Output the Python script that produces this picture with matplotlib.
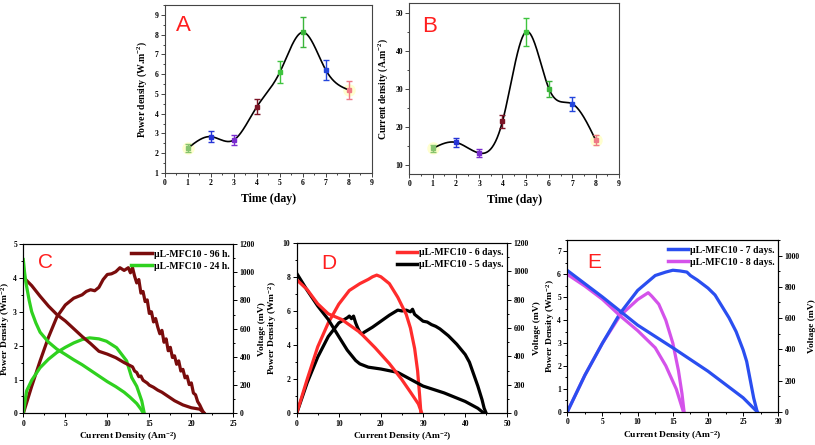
import numpy as np
import matplotlib
matplotlib.use('Agg')
import matplotlib.pyplot as plt
from matplotlib.ticker import MultipleLocator

plt.rcParams['font.family'] = ['Liberation Serif', 'DejaVu Serif']
plt.rcParams['font.weight'] = 'bold'
plt.rcParams['axes.labelweight'] = 'bold'
plt.rcParams['mathtext.fontset'] = 'custom'
plt.rcParams['mathtext.rm'] = 'Liberation Serif:bold'
plt.rcParams['mathtext.bf'] = 'Liberation Serif:bold'
plt.rcParams['mathtext.default'] = 'bf'

# ---------------- data ----------------
days = [1, 2, 3, 4, 5, 6, 7, 8]
power_day = [2.25, 2.84, 2.67, 4.35, 6.1, 8.12, 6.2, 5.2]
power_err = [0.2, 0.28, 0.23, 0.37, 0.55, 0.75, 0.5, 0.45]
current_day = [14.3, 15.9, 13.1, 21.4, 44.9, 29.9, 26.0, 16.5]
current_err = [0.9, 1.2, 0.95, 1.8, 3.6, 2.1, 1.9, 1.4]
point_colors = ['#86c46e', '#2634d6', '#7a2ccf', '#7c1426', '#3fc43f', '#3bb53b', '#2446dc', '#ef7a86']

# Panel C
c96_j = [0, 1, 2, 3, 4, 5, 6, 7, 7.5, 8, 8.5, 9, 9.5, 10, 10.5, 11, 11.5, 12, 12.5,
         12.75, 13.0, 13.25, 13.5, 13.75, 14.0, 14.25, 14.5, 14.75, 15.0, 15.25, 15.5, 15.75, 16.0,
         16.25, 16.5, 16.75, 17.0, 17.25, 17.5, 17.75, 18.0, 18.25, 18.5, 18.75, 19.0, 19.25, 19.5,
         19.75, 20.0, 20.25, 20.5, 20.75, 21.0, 21.25, 21.5]
c96_p = [0, 0.8, 1.55, 2.25, 2.85, 3.2, 3.4, 3.5, 3.6, 3.65, 3.62, 3.72, 3.95, 4.1, 4.12, 4.18, 4.3, 4.22, 4.3,
         4.15, 4.3, 4.05, 3.85, 3.95, 3.55, 3.6, 3.3, 3.35, 2.95, 3.0, 2.7, 2.8, 2.55,
         2.35, 2.45, 2.1, 2.2, 1.85, 1.95, 1.65, 1.7, 1.45, 1.55, 1.25, 1.3, 1.05, 1.1,
         0.85, 0.9, 0.6, 0.55, 0.35, 0.25, 0.12, 0.0]
c96_vj = [0, 0.5, 1, 2, 3, 4, 5, 6, 7, 8, 9, 10, 11, 12, 12.5, 13.0, 13.25, 13.5, 13.75, 14.0, 14.25,
          14.5, 14.75, 15.0, 15.5, 16.0, 16.5, 17.0, 17.5, 18.0, 18.5, 19.0, 19.5, 20.0, 20.5, 21.0, 21.5]
c96_v = [965, 935, 905, 830, 760, 700, 655, 600, 545, 495, 440, 420, 395, 360, 345, 330, 300, 290, 260, 265, 235,
         225, 215, 200, 185, 165, 150, 130, 110, 90, 75, 60, 50, 40, 35, 30, 5]
c24_j = [0, 0.4, 1, 2, 3, 4, 5, 6, 7, 7.9, 9, 9.9, 11.1, 12.3, 12.9, 13.5, 14.1, 14.4]
c24_p = [0, 0.67, 0.98, 1.35, 1.6, 1.8, 1.95, 2.08, 2.18, 2.23, 2.2, 2.13, 1.94, 1.55, 1.06, 0.8, 0.37, 0]
c24_vj = [0, 0.15, 0.3, 0.7, 1.0, 1.5, 2, 3, 4, 5, 6, 7, 8, 9, 10, 11, 12, 12.7, 13.5, 14.0, 14.3]
c24_v = [1090, 1000, 930, 800, 720, 640, 575, 505, 455, 418, 380, 345, 305, 265, 225, 190, 150, 115, 70, 30, 0]

# Panel D
d6_j = [0, 2.5, 5, 7.5, 10, 12.5, 15, 17, 18, 19, 20, 21, 22, 23, 24, 25, 26, 27, 28, 28.7, 29.2, 29.5]
d6_p = [0, 2.0, 3.9, 5.3, 6.4, 7.2, 7.6, 7.85, 8.0, 8.1, 8.0, 7.8, 7.6, 7.2, 6.8, 6.3, 5.8, 5.0, 3.8, 2.5, 1.0, 0]
d6_vj = [0, 2.5, 5, 7.5, 10.7, 15, 18.6, 22, 24.9, 27, 28.9, 29.7]
d6_v = [940, 870, 770, 700, 660, 570, 462, 350, 240, 150, 66, 0]
d5_j = [0, 2.5, 5, 7.5, 10, 11, 12, 12.5, 13, 13.5, 14, 14.5, 15, 15.5, 16, 17, 18, 20, 22, 24, 25, 26, 27, 27.5,
        28, 29, 30, 31, 32, 33, 34, 35, 36, 37, 38, 39, 40, 41, 42, 43, 44, 44.5, 45]
d5_p = [0, 1.8, 3.3, 4.5, 5.3, 5.45, 5.6, 5.7, 5.55, 5.7, 5.3, 5.0, 4.75, 4.65, 4.75, 4.9, 5.05, 5.4, 5.75, 6.05, 6.0, 6.05, 5.95, 6.1,
        5.8, 5.6, 5.4, 5.35, 5.2, 5.1, 4.95, 4.75, 4.55, 4.3, 4.05, 3.75, 3.45, 3.0, 2.3, 1.6, 0.8, 0.3, 0]
d5_vj = [0, 2.5, 5, 7.5, 10, 12, 14, 15, 17, 20, 24, 27, 30, 35, 40, 43, 44.5]
d5_v = [985, 865, 755, 660, 540, 445, 372, 348, 325, 312, 288, 240, 192, 144, 84, 36, 0]

# Panel E
e7_j = [0, 2.5, 5, 7.5, 10, 12.5, 14, 15, 16, 17, 17.5, 18.5, 20, 21, 22, 23, 24, 25, 25.5, 26, 26.5, 27]
e7_p = [0, 1.6, 3.0, 4.3, 5.3, 5.95, 6.1, 6.18, 6.15, 6.1, 5.95, 5.75, 5.4, 5.1, 4.6, 4.1, 3.5, 2.7, 2.2, 1.4, 0.6, 0]
e7_vj = [0, 5, 10, 15, 20, 25, 27]
e7_v = [905, 735, 555, 410, 260, 90, 0]
e8_j = [0, 2.5, 5, 7.5, 10, 11, 11.5, 12, 13, 14, 15, 15.8, 16.3, 16.6]
e8_p = [0, 1.6, 3.0, 4.2, 4.9, 5.1, 5.2, 5.05, 4.7, 4.0, 3.0, 1.8, 0.8, 0]
e8_vj = [0, 2.5, 5, 7.5, 10, 12.5, 14, 15.5, 16.5]
e8_v = [880, 805, 720, 615, 520, 410, 295, 145, 0]

LABEL_FS = 6.8
TICK_FS = 5.5
LETTER_COLOR = '#ff1e1e'


def nat_spline(x, y, n=400):
    x = np.asarray(x, float)
    y = np.asarray(y, float)
    h = np.diff(x)
    m = len(x)
    A = np.zeros((m, m))
    r = np.zeros(m)
    A[0, 0] = A[-1, -1] = 1
    for i in range(1, m - 1):
        A[i, i - 1] = h[i - 1]
        A[i, i] = 2 * (h[i - 1] + h[i])
        A[i, i + 1] = h[i]
        r[i] = 6 * ((y[i + 1] - y[i]) / h[i] - (y[i] - y[i - 1]) / h[i - 1])
    M = np.linalg.solve(A, r)
    xs = np.linspace(x[0], x[-1], n)
    idx = np.clip(np.searchsorted(x, xs) - 1, 0, m - 2)
    x0 = x[idx]
    x1 = x[idx + 1]
    hh = x1 - x0
    a = (x1 - xs) / hh
    b = (xs - x0) / hh
    ys = a * y[idx] + b * y[idx + 1] + ((a ** 3 - a) * M[idx] + (b ** 3 - b) * M[idx + 1]) * hh ** 2 / 6
    return xs, ys


def style_ticks(ax, color='black'):
    ax.tick_params(which='both', direction='out', labelsize=TICK_FS, width=0.7, color=color, pad=1.5)
    ax.tick_params(which='major', length=3)
    ax.tick_params(which='minor', length=1.6)
    for lab in ax.get_xticklabels() + ax.get_yticklabels():
        lab.set_fontweight('bold')


fig = plt.figure(figsize=(8.15, 4.45), dpi=100)


def time_panel(rect, vals, errs, ylim, ymaj, ymin, ylabel, letter, lpos):
    ax = fig.add_axes(rect)
    xs, ys = nat_spline(days, vals)
    ax.plot(xs, ys, color='black', lw=1.2, zorder=2)
    for d, v, e, c in zip(days, vals, errs, point_colors):
        if c in ('#86c46e', '#ef7a86'):
            ax.plot(d, v, 'o', ms=9, color='#ffffb0', alpha=0.6, mec='none', zorder=1)
        ax.errorbar(d, v, yerr=e, fmt='s', ms=3, color=c, ecolor=c, elinewidth=1.0,
                    capsize=2.5, capthick=1.0, zorder=3)
    ax.set_xlim(0, 9)
    ax.set_ylim(*ylim)
    ax.xaxis.set_major_locator(MultipleLocator(1))
    ax.xaxis.set_minor_locator(MultipleLocator(0.5))
    ax.yaxis.set_major_locator(MultipleLocator(ymaj))
    ax.yaxis.set_minor_locator(MultipleLocator(ymin))
    for s in ax.spines.values():
        s.set_color('#444444')
        s.set_linewidth(0.8)
    style_ticks(ax, '#444444')
    ax.set_xlabel('Time (day)', fontsize=8.5, labelpad=4)
    ax.set_ylabel(ylabel, fontsize=7, labelpad=4)
    ax.text(lpos[0], lpos[1], letter, transform=ax.transAxes, color=LETTER_COLOR,
            fontsize=16, family='Liberation Sans', fontweight='normal', va='center', ha='left')
    return ax


time_panel([0.2021, 0.6112, 0.2543, 0.3776], power_day, power_err, (1, 9.5), 1, 0.5,
           'Power density (W.m$^{-2}$)', 'A', (0.055, 0.88))
time_panel([0.5022, 0.609, 0.2573, 0.3843], current_day, current_err, (7.6, 52.5), 10, 5,
           'Current density (A.m$^{-2}$)', 'B', (0.06, 0.86))


def pol_panel(rect, series, xlim, xmaj, xmin, ylim, ymaj, ymin, vlim, letter, lpos, labels, lcolors,
              ylab_x, vlab_x):
    ax = fig.add_axes(rect)
    ax2 = ax.twinx()
    for (pj, pp, vj, vv, c) in series:
        ax.plot(pj, pp, color=c, lw=2.3, solid_joinstyle='round')
        ax2.plot(vj, vv, color=c, lw=2.3, solid_joinstyle='round')
    ax.set_xlim(*xlim)
    ax.set_ylim(*ylim)
    ax2.set_ylim(*vlim)
    ax.xaxis.set_major_locator(MultipleLocator(xmaj))
    ax.xaxis.set_minor_locator(MultipleLocator(xmin))
    ax.yaxis.set_major_locator(MultipleLocator(ymaj))
    ax.yaxis.set_minor_locator(MultipleLocator(ymin))
    ax2.yaxis.set_major_locator(MultipleLocator(200))
    ax2.yaxis.set_minor_locator(MultipleLocator(100))
    for a in (ax, ax2):
        for s in a.spines.values():
            s.set_linewidth(0.8)
        style_ticks(a)
    ax.set_xlabel('Current Density (Am$^{-2}$)', fontsize=LABEL_FS, labelpad=2)
    ax.set_ylabel('Power Density (Wm$^{-2}$)', fontsize=LABEL_FS)
    ax2.set_ylabel('Voltage (mV)', fontsize=LABEL_FS)
    ax.yaxis.set_label_coords(ylab_x, 0.5)
    ax2.yaxis.set_label_coords(vlab_x, 0.5)
    ax.yaxis.label.set_va('center')
    ax2.yaxis.label.set_va('center')
    ax.text(lpos[0], lpos[1], letter, transform=ax.transAxes, color=LETTER_COLOR,
            fontsize=15, family='Liberation Sans', fontweight='normal', va='center', ha='left')
    handles = [plt.Line2D([], [], color=c, lw=2.5) for c in lcolors]
    ax.legend(handles, labels, loc='upper right', bbox_to_anchor=(1.01, 1.0), frameon=False,
              handlelength=2.1, handletextpad=0.2, borderaxespad=0.2,
              labelspacing=0.3, prop={'family': 'Liberation Serif', 'weight': 'bold', 'size': 7})
    return ax, ax2


BROWN = '#7a0c0c'
GREEN = '#2fd11f'
RED = '#ff2c2c'
BLUE = '#2a4ef0'
MAGENTA = '#d452ea'

pol_panel([0.0286, 0.071, 0.2577, 0.3807],
          [(c96_j, c96_p, c96_vj, c96_v, BROWN), (c24_j, c24_p, c24_vj, c24_v, GREEN)],
          (0, 25), 5, 2.5, (0, 5), 1, 0.5, (0, 1200), 'C', (0.07, 0.89),
          ['µL-MFC10 - 96 h.', 'µL-MFC10 - 24 h.'], [BROWN, GREEN], -0.083, 1.137)
pol_panel([0.364, 0.071, 0.2585, 0.3837],
          [(d5_j, d5_p, d5_vj, d5_v, 'black'), (d6_j, d6_p, d6_vj, d6_v, RED)],
          (0, 50), 10, 5, (0, 10), 2, 1, (0, 1200), 'D', (0.115, 0.88),
          ['µL-MFC10 - 6 days.', 'µL-MFC10 - 5 days.'], [RED, 'black'], -0.113, 1.14)
pol_panel([0.6961, 0.0745, 0.2589, 0.3862],
          [(e8_j, e8_p, e8_vj, e8_v, MAGENTA), (e7_j, e7_p, e7_vj, e7_v, BLUE)],
          (0, 30), 5, 2.5, (0, 7.5), 1, 0.5, (0, 1100), 'E', (0.095, 0.87),
          ['µL-MFC10 - 7 days.', 'µL-MFC10 - 8 days.'], [BLUE, MAGENTA], -0.082, 1.158)

fig.savefig('out.png', dpi=100)
